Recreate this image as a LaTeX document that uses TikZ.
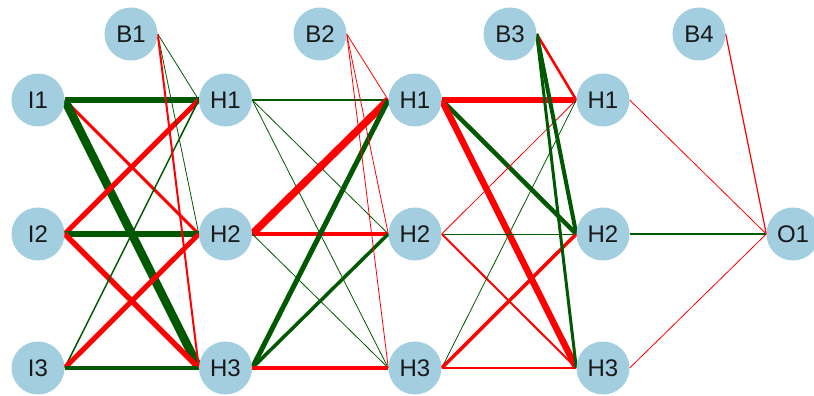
\documentclass[tikz,border=0pt]{standalone}
\usepackage{fontspec}
\setmainfont{Liberation Sans}
\usetikzlibrary{backgrounds}
\definecolor{nodeblue}{RGB}{162,206,224}
\definecolor{posg}{RGB}{0,88,0}
\definecolor{negr}{RGB}{255,0,0}
\tikzset{
  neuron/.style={circle, fill=nodeblue, draw=none, minimum size=53pt, inner sep=0pt,
    font=\fontsize{24}{24}\selectfont, text=black!90},
  pos/.style={draw=posg, line width=#1pt},
  neg/.style={draw=negr, line width=#1pt},
}
\begin{document}
\begin{tikzpicture}[x=1pt, y=-1pt]
\useasboundingbox (0,0) rectangle (814,396);
% input layer
\node[neuron] (i1) at (38,100) {I1};
\node[neuron] (i2) at (38,234) {I2};
\node[neuron] (i3) at (38,368) {I3};
% biases
\node[neuron] (b1) at (131,34) {B1};
\node[neuron] (b2) at (320,34) {B2};
\node[neuron] (b3) at (510,34) {B3};
\node[neuron] (b4) at (699,34) {B4};
% hidden 1
\node[neuron] (a1) at (225.5,100) {H1};
\node[neuron] (a2) at (225.5,234) {H2};
\node[neuron] (a3) at (225.5,368) {H3};
% hidden 2
\node[neuron] (c1) at (415,100) {H1};
\node[neuron] (c2) at (415,234) {H2};
\node[neuron] (c3) at (415,368) {H3};
% hidden 3
\node[neuron] (d1) at (603,100) {H1};
\node[neuron] (d2) at (603,234) {H2};
\node[neuron] (d3) at (603,368) {H3};
% output
\node[neuron] (o1) at (793,234) {O1};

\begin{pgfonlayer}{background}
% input -> hidden 1
\draw[pos=6.5] (i1.east) -- (a1.west);
\draw[neg=3] (i1.east) -- (a2.west);
\draw[pos=8.5] (i1.east) -- (a3.west);
\draw[neg=5] (i2.east) -- (a1.west);
\draw[pos=5.5] (i2.east) -- (a2.west);
\draw[neg=5.5] (i2.east) -- (a3.west);
\draw[pos=1.5] (i3.east) -- (a1.west);
\draw[neg=5] (i3.east) -- (a2.west);
\draw[pos=4] (i3.east) -- (a3.west);
\draw[pos=0.8] (b1.east) -- (a1.west);
\draw[pos=0.8] (b1.east) -- (a2.west);
\draw[neg=2] (b1.east) -- (a3.west);
% hidden 1 -> hidden 2
\draw[pos=2] (a1.east) -- (c1.west);
\draw[pos=0.8] (a1.east) -- (c2.west);
\draw[pos=0.8] (a1.east) -- (c3.west);
\draw[neg=7.5] (a2.east) -- (c1.west);
\draw[neg=4] (a2.east) -- (c2.west);
\draw[pos=0.8] (a2.east) -- (c3.west);
\draw[pos=5] (a3.east) -- (c1.west);
\draw[pos=3.5] (a3.east) -- (c2.west);
\draw[neg=4] (a3.east) -- (c3.west);
\draw[neg=0.8] (b2.east) -- (c1.west);
\draw[neg=0.8] (b2.east) -- (c2.west);
\draw[neg=0.8] (b2.east) -- (c3.west);
% hidden 2 -> hidden 3
\draw[neg=5.5] (c1.east) -- (d1.west);
\draw[pos=4.5] (c1.east) -- (d2.west);
\draw[neg=6.5] (c1.east) -- (d3.west);
\draw[neg=0.8] (c2.east) -- (d1.west);
\draw[pos=0.8] (c2.east) -- (d2.west);
\draw[neg=2] (c2.east) -- (d3.west);
\draw[pos=0.8] (c3.east) -- (d1.west);
\draw[neg=3.5] (c3.east) -- (d2.west);
\draw[neg=1.5] (c3.east) -- (d3.west);
\draw[neg=2.5] (b3.east) -- (d1.west);
\draw[pos=4] (b3.east) -- (d2.west);
\draw[pos=3] (b3.east) -- (d3.west);
% hidden 3 -> output
\draw[neg=0.8] (d1.east) -- (o1.west);
\draw[pos=2.5] (d2.east) -- (o1.west);
\draw[neg=0.8] (d3.east) -- (o1.west);
\draw[neg=1.2] (b4.east) -- (o1.west);
\end{pgfonlayer}
\end{tikzpicture}
\end{document}
